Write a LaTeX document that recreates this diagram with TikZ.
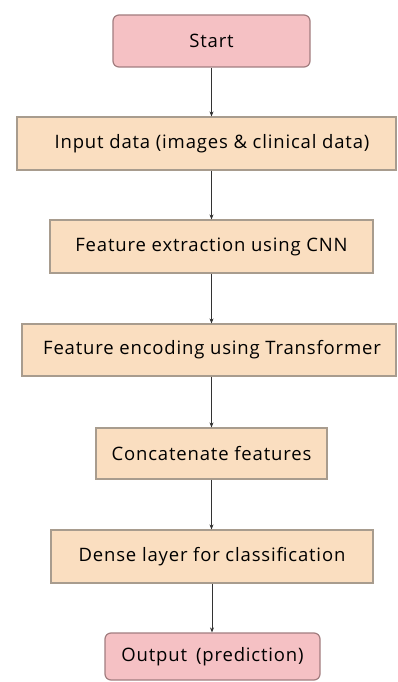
\documentclass[tikz,border=0pt]{standalone}
\usepackage{fontspec}
\setmainfont{Open Sans}[LetterSpace=4.5]
\usetikzlibrary{arrows.meta}
\definecolor{pinkfill}{HTML}{F5C1C4}
\definecolor{pinkdraw}{HTML}{A27D7F}
\definecolor{tanfill}{HTML}{FADEC0}
\definecolor{tandraw}{HTML}{A89C8E}
\definecolor{arr}{HTML}{333333}
\tikzset{
  termbox/.style={draw=pinkdraw, fill=pinkfill, line width=1.2pt, rounded corners=6pt, inner sep=0pt, font=\fontsize{18.5}{21}\selectfont},
  procbox/.style={draw=tandraw, fill=tanfill, line width=1.2pt, inner sep=0pt, font=\fontsize{18.5}{21}\selectfont},
  flow/.style={draw=arr, line width=0.9pt, -{Stealth[length=5pt,width=4pt]}}
}
\begin{document}
\begin{tikzpicture}[x=1pt,y=-1pt]
\useasboundingbox (0,0) rectangle (397,682);
\node[termbox, minimum width=197pt, minimum height=52pt] (start) at (211.5,41) {Start};
\node[procbox, minimum width=379pt, minimum height=53pt] (input) at (206.5,143.5) {\hspace{11pt}Input data (images \& clinical data)};
\node[procbox, minimum width=323pt, minimum height=53pt] (fext) at (211.5,246.5) {Feature extraction using CNN};
\node[procbox, minimum width=374pt, minimum height=52pt] (fenc) at (209,350) {\hspace{6pt}Feature encoding using Transformer};
\node[procbox, minimum width=231pt, minimum height=51pt] (concat) at (211.5,453.5) {Concatenate features};
\node[procbox, minimum width=322pt, minimum height=53pt] (dense) at (212,556.5) {Dense layer for classification};
\node[termbox, minimum width=215pt, minimum height=47pt] (out) at (212.5,656.5) {Output\hspace{9pt}(prediction)};
\draw[flow] (start.south) -- (start.south |- input.north);
\draw[flow] (start.south |- input.south) -- (start.south |- fext.north);
\draw[flow] (fext.south) -- (fext.south |- fenc.north);
\draw[flow] (fext.south |- fenc.south) -- (fext.south |- concat.north);
\draw[flow] (concat.south) -- (concat.south |- dense.north);
\draw[flow] (dense.south) -- (dense.south |- out.north);
\end{tikzpicture}
\end{document}
